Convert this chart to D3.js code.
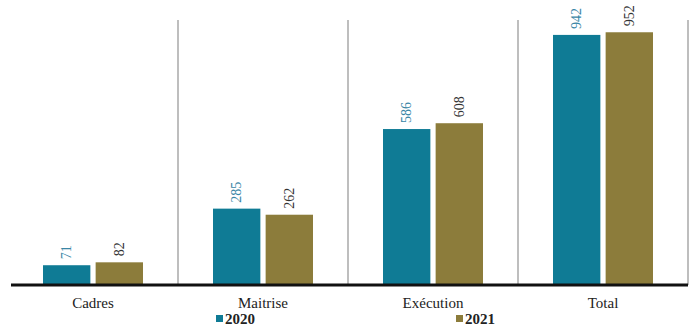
<!DOCTYPE html>
<html><head><meta charset="utf-8">
<script src="https://cdn.jsdelivr.net/npm/d3@7"></script>
<style>body{margin:0;background:#fff}svg{display:block}text{font-family:"Liberation Serif","DejaVu Serif","Times New Roman",serif}</style>
</head><body>
<svg id="c" width="694" height="331"></svg>
<script>
const categories = ["Cadres", "Maitrise", "Exécution", "Total"];
const series = ["2020", "2021"];
const values2020 = [71, 285, 586, 942];
const values2021 = [82, 262, 608, 952];
const colors = ["#0f7b95", "#8c7c3b"];
const labelColors = ["#3a86a6", "#333333"];

const svg = d3.select("#c");
const x = d3.scaleBand().domain(categories).range([8, 688]).paddingInner(0).paddingOuter(0);
const xs = d3.scaleBand().domain(series).range([35, 135]).paddingInner(0.1);
const y = d3.scaleLinear().domain([0, 1074]).range([284, 0]);

// separators
svg.selectAll("line.sep").data(categories.slice(1).concat(["end"])).enter().append("line")
  .attr("x1", (d,i)=> i < 3 ? x(d) : 688).attr("x2", (d,i)=> i < 3 ? x(d) : 688)
  .attr("y1", 20).attr("y2", 285)
  .attr("stroke", "#a8a8a8").attr("stroke-width", 1.5);

const data = [];
categories.forEach((c,i)=>{
  data.push({c, s:"2020", v: values2020[i], k:0});
  data.push({c, s:"2021", v: values2021[i], k:1});
});

svg.selectAll("rect.bar").data(data).enter().append("rect")
  .attr("x", d=> x(d.c) + xs(d.s))
  .attr("width", xs.bandwidth())
  .attr("y", d=> y(d.v))
  .attr("height", d=> y(0) - y(d.v))
  .attr("fill", d=> colors[d.k]);

svg.selectAll("text.lbl").data(data).enter().append("text")
  .attr("transform", d=> `translate(${x(d.c) + xs(d.s) + xs.bandwidth()/2 + 4.5},${y(d.v) - 6}) rotate(-90)`)
  .attr("font-size", 14)
  .attr("fill", d=> labelColors[d.k])
  .text(d=> d.v);

// axis line
svg.append("line").attr("x1", 11).attr("x2", 688).attr("y1", 285).attr("y2", 285)
  .attr("stroke", "#111").attr("stroke-width", 3);

// category labels
svg.selectAll("text.cat").data(categories).enter().append("text")
  .attr("x", d=> x(d) + x.bandwidth()/2).attr("y", 308)
  .attr("text-anchor", "middle").attr("font-size", 15)
  .attr("fill", "#222").text(d=>d);

// legend
const legX = [216, 456];
series.forEach((s,i)=>{
  svg.append("rect").attr("x", legX[i]).attr("y", 315).attr("width", 7).attr("height", 7).attr("fill", colors[i]);
  svg.append("text").attr("x", legX[i] + 9).attr("y", 324)
    .attr("font-size", 15).attr("font-weight", "bold")
    .attr("fill", "#222").text(s);
});
</script>
</body></html>
